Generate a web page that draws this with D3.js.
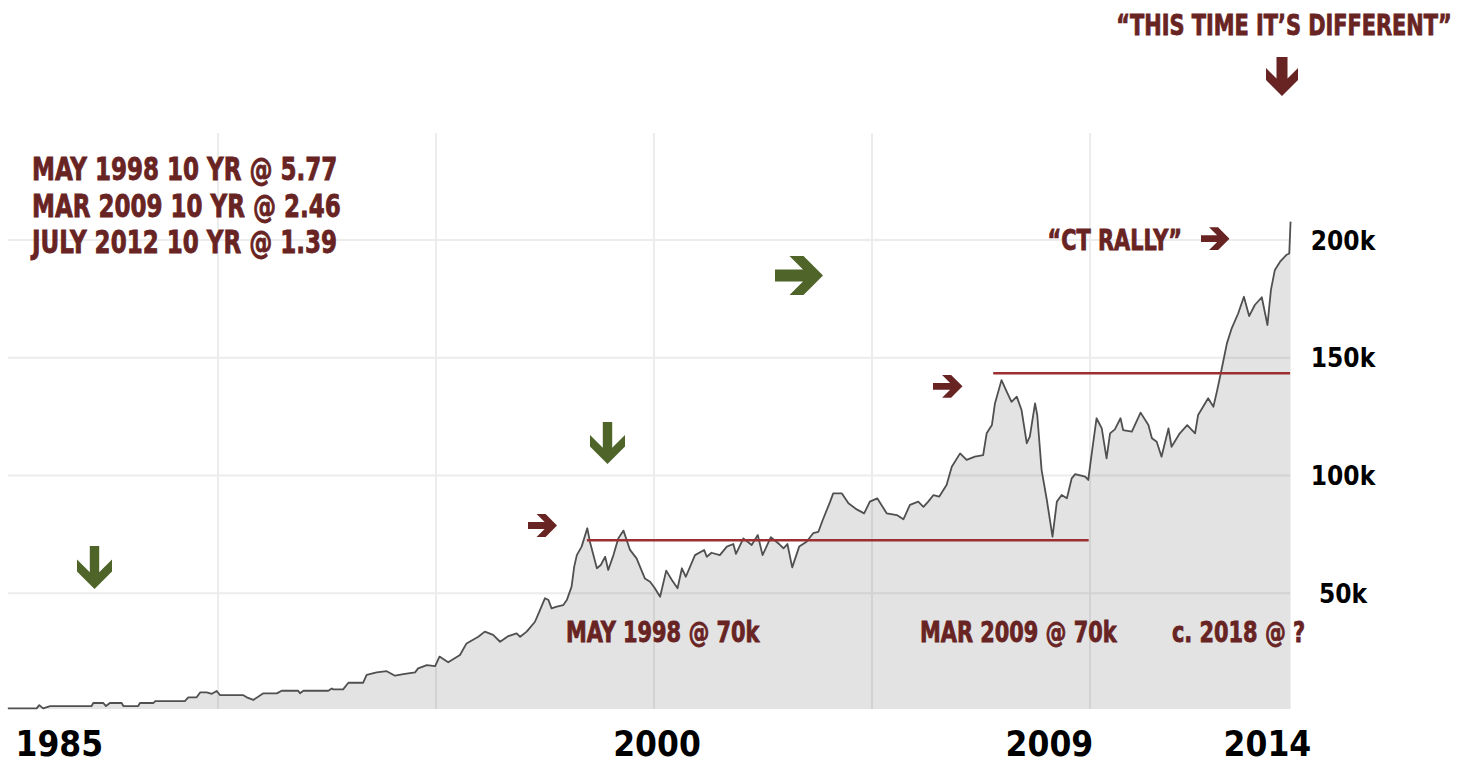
<!DOCTYPE html>
<html>
<head>
<meta charset="utf-8">
<script src="https://cdn.jsdelivr.net/npm/d3@7"></script>
<style>
  html, body { margin: 0; padding: 0; background: #fff; }
  svg { display: block; }
  .ann { font-family: 'DejaVu Sans Condensed', 'DejaVu Sans', sans-serif; font-weight: 700; fill: #682323; stroke: #682323; stroke-width: 0.8; }
  .axis-label { font-family: 'DejaVu Sans Condensed', 'DejaVu Sans', sans-serif; font-weight: 700; fill: #000; }
</style>
</head>
<body>
<svg id="chart"></svg>
<script>
// price series, decimal year and value in thousands
const years = [
  1985.18, 1985.84, 1985.90, 1985.99, 1986.15, 1987.10, 1987.14, 1987.37, 1987.43, 1987.52,
  1987.79, 1987.83, 1988.17, 1988.21, 1988.52, 1988.56, 1989.24, 1989.32, 1989.51, 1989.59,
  1989.74, 1989.86, 1989.97, 1990.05, 1990.58, 1990.66, 1990.81, 1991.04, 1991.35, 1991.46,
  1991.84, 1991.88, 1991.96, 1992.53, 1992.61, 1992.64, 1992.87, 1992.99, 1993.33, 1993.41,
  1993.64, 1993.87, 1994.06, 1994.25, 1994.52, 1994.59, 1994.79, 1994.98, 1995.08, 1995.28,
  1995.55, 1995.70, 1995.97, 1996.12, 1996.31, 1996.47, 1996.66, 1996.85, 1996.93, 1997.08,
  1997.27, 1997.37, 1997.50, 1997.58, 1997.65, 1997.77, 1997.92, 1998.00, 1998.11, 1998.17,
  1998.23, 1998.34, 1998.47, 1998.53, 1998.69, 1998.78, 1998.88, 1998.95, 1999.07, 1999.18,
  1999.30, 1999.45, 1999.60, 1999.79, 1999.91, 2000.02, 2000.14, 2000.28, 2000.41, 2000.54,
  2000.64, 2000.73, 2000.94, 2001.15, 2001.21, 2001.32, 2001.51, 2001.67, 2001.82, 2001.88,
  2002.05, 2002.24, 2002.38, 2002.49, 2002.68, 2002.87, 2002.97, 2003.06, 2003.17, 2003.33,
  2003.50, 2003.65, 2003.77, 2003.87, 2004.04, 2004.11, 2004.31, 2004.46, 2004.65, 2004.82,
  2004.95, 2005.12, 2005.34, 2005.57, 2005.72, 2005.87, 2006.06, 2006.18, 2006.29, 2006.41,
  2006.54, 2006.71, 2006.83, 2007.02, 2007.17, 2007.36, 2007.55, 2007.63, 2007.75, 2007.82,
  2007.97, 2008.09, 2008.20, 2008.32, 2008.43, 2008.55, 2008.62, 2008.74, 2008.79, 2008.89,
  2009.01, 2009.14, 2009.24, 2009.35, 2009.47, 2009.58, 2009.66, 2009.89, 2009.96, 2010.04,
  2010.15, 2010.27, 2010.38, 2010.46, 2010.57, 2010.70, 2010.76, 2010.96, 2011.16, 2011.34,
  2011.42, 2011.53, 2011.64, 2011.80, 2011.87, 2012.06, 2012.23, 2012.41, 2012.48, 2012.71,
  2012.83, 2012.91, 2013.00, 2013.14, 2013.25, 2013.40, 2013.53, 2013.65, 2013.78, 2013.94,
  2014.00, 2014.07, 2014.15, 2014.24, 2014.36, 2014.50, 2014.57, 2014.60
];
const values = [
  1.1, 1.1, 2.5, 1.1, 2.1, 2.1, 3.4, 3.4, 2.1, 3.4,
  3.4, 2.1, 2.1, 3.4, 3.4, 4.2, 4.2, 5.8, 5.8, 7.9,
  7.9, 7.3, 8.5, 6.7, 6.7, 5.8, 4.7, 7.5, 7.5, 8.6,
  8.6, 7.5, 8.6, 8.6, 9.6, 9.2, 9.2, 12.0, 12.0, 15.3,
  16.4, 16.9, 15.0, 15.7, 16.4, 18.1, 19.5, 19.1, 23.1, 20.7,
  23.8, 28.7, 31.5, 33.7, 32.3, 29.4, 31.8, 33.0, 31.5, 33.7,
  37.9, 42.2, 47.9, 47.1, 43.6, 44.3, 45.0, 47.1, 52.8, 61.3,
  66.2, 69.8, 77.6, 71.9, 60.6, 62.0, 65.5, 59.9, 66.2, 73.3,
  76.6, 68.4, 64.8, 56.3, 54.9, 52.1, 48.5, 59.6, 55.6, 52.1,
  60.6, 57.0, 66.2, 68.4, 65.5, 67.2, 66.2, 69.8, 70.9, 66.7,
  73.3, 70.5, 74.7, 66.2, 73.8, 70.9, 69.1, 70.9, 61.0, 69.8,
  71.9, 75.5, 76.1, 81.1, 88.9, 92.4, 92.4, 88.2, 85.6, 83.9,
  88.9, 90.3, 83.9, 83.2, 81.4, 87.5, 88.9, 86.7, 88.9, 91.7,
  91.0, 96.0, 103.7, 109.4, 106.6, 108.0, 108.7, 117.9, 121.4, 130.6,
  140.5, 135.6, 131.3, 133.5, 127.8, 113.7, 116.5, 130.6, 125.7, 102.3,
  89.6, 74.0, 88.9, 91.7, 90.3, 98.8, 100.6, 99.5, 98.1, 109.4,
  124.3, 120.0, 107.3, 117.9, 119.6, 124.3, 119.3, 118.6, 126.7, 121.4,
  115.8, 114.3, 108.0, 120.0, 112.2, 117.9, 121.4, 117.9, 125.7, 132.8,
  129.2, 135.6, 143.4, 156.1, 162.5, 168.9, 175.9, 167.7, 172.4, 175.7,
  170.3, 163.9, 178.8, 187.3, 190.8, 193.6, 194.3, 207.8
];

// axis ticks
const xTickYears = [1985, 2000, 2009, 2014];
const xGridYears = [1990, 1995, 2000, 2005, 2010];
const yTicks = [50, 100, 150, 200];

// level lines (value in thousands, from/to year)
const levels = [
  { value: 72.5, from: 1998.46, to: 2009.97 },
  { value: 143.4, from: 2007.78, to: 2014.59 }
];

// annotation texts
const notes = [
  { text: 'MAY 1998 10 YR @ 5.77', x: 32, y: 180, size: 32, anchor: 'start' },
  { text: 'MAR 2009 10 YR @ 2.46', x: 32, y: 217, size: 32, anchor: 'start' },
  { text: 'JULY 2012 10 YR @ 1.39', x: 32, y: 253, size: 32, anchor: 'start' },
  { text: '\u201CTHIS TIME IT\u2019S DIFFERENT\u201D', x: 1284, y: 35, size: 29, anchor: 'middle' },
  { text: '\u201CCT RALLY\u201D', x: 1182, y: 250, size: 29, anchor: 'end' },
  { text: 'MAY 1998 @ 70k', x: 566, y: 642, size: 29, anchor: 'start' },
  { text: 'MAR 2009 @ 70k', x: 920, y: 642, size: 29, anchor: 'start' },
  { text: 'c. 2018 @ ?', x: 1172, y: 642, size: 29, anchor: 'start' }
];

const data = years.map((yr, i) => ({ year: yr, value: values[i] * 1000 }));

const W = 1465, H = 763;
const plot = { left: 8, right: 1290, top: 133, bottom: 709 };
const green = '#4e6428', maroon = '#682323', levelRed = '#9c3030';
const squeeze = 0.8; // condensed look for the annotation font

const svg = d3.select('#chart').attr('width', W).attr('height', H);
svg.append('rect').attr('width', W).attr('height', H).attr('fill', '#fff');

const x = d3.scaleLinear().domain([1985, 2015]).range([0, 1308]);
const y = d3.scaleLinear().domain([0, 200000]).range([711, 240]);

// grid
svg.append('g').selectAll('line').data(xGridYears).enter().append('line')
  .attr('x1', d => x(d)).attr('x2', d => x(d))
  .attr('y1', plot.top).attr('y2', plot.bottom)
  .attr('stroke', '#ececec').attr('stroke-width', 2);
svg.append('g').selectAll('line').data(yTicks).enter().append('line')
  .attr('x1', plot.left).attr('x2', plot.right)
  .attr('y1', d => y(d * 1000)).attr('y2', d => y(d * 1000))
  .attr('stroke', '#ececec').attr('stroke-width', 2);

// area + line
const area = d3.area()
  .x(d => x(d.year))
  .y0(plot.bottom)
  .y1(d => y(d.value));
svg.append('path').datum(data)
  .attr('d', area)
  .attr('fill', '#000').attr('fill-opacity', 0.11);

const line = d3.line().x(d => x(d.year)).y(d => y(d.value));
svg.append('path').datum(data)
  .attr('d', line)
  .attr('fill', 'none').attr('stroke', '#505050').attr('stroke-width', 1.8)
  .attr('stroke-linejoin', 'round');

// level lines
svg.append('g').selectAll('line').data(levels).enter().append('line')
  .attr('x1', d => x(d.from)).attr('x2', d => x(d.to))
  .attr('y1', d => y(d.value * 1000)).attr('y2', d => y(d.value * 1000))
  .attr('stroke', levelRed).attr('stroke-width', 2.6);

// x axis
const xAxis = svg.append('g')
  .call(d3.axisBottom(x).tickValues(xTickYears).tickSize(0).tickFormat(d3.format('d')));
xAxis.select('.domain').remove();
xAxis.selectAll('text')
  .attr('class', 'axis-label')
  .attr('font-size', 35)
  .attr('y', 756).attr('dy', null)
  .attr('text-anchor', d => d === 1985 ? 'start' : 'middle')
  .attr('dx', d => d === 1985 ? 15 : 2.5);

// y axis
const yAxis = svg.append('g')
  .attr('transform', 'translate(1343,0)')
  .call(d3.axisRight(y).tickValues(yTicks.map(v => v * 1000)).tickSize(0).tickPadding(0)
    .tickFormat(d => (d / 1000) + 'k'));
yAxis.select('.domain').remove();
yAxis.selectAll('text')
  .attr('class', 'axis-label')
  .attr('font-size', 26)
  .attr('text-anchor', 'middle')
  .attr('dy', null).attr('y', 9);

// arrows
function downArrow(cx, top, tip, a, b, k) {
  const yw = tip - b - k;
  return [[cx - a, top], [cx + a, top], [cx + a, yw + (b - a)], [cx + b, yw], [cx + b, yw + k],
    [cx, tip], [cx - b, yw + k], [cx - b, yw], [cx - a, yw + (b - a)]];
}
function rightArrow(left, cy, tip, a, b, k) {
  const xw = tip - b - k;
  return [[left, cy - a], [xw + (b - a), cy - a], [xw, cy - b], [xw + k, cy - b], [tip, cy],
    [xw + k, cy + b], [xw, cy + b], [xw + (b - a), cy + a], [left, cy + a]];
}
const arrows = [
  { pts: downArrow(94.5, 546, 589, 4.7, 17.5, 12), color: green },
  { pts: downArrow(607.5, 422, 464, 4.7, 17.5, 11.5), color: green },
  { pts: rightArrow(775, 275.5, 823, 6, 19.5, 14), color: green },
  { pts: rightArrow(528, 525.5, 557, 3.4, 11.4, 9), color: maroon },
  { pts: rightArrow(933, 386.3, 962.5, 3.4, 11.4, 9), color: maroon },
  { pts: rightArrow(1201, 238.7, 1229.5, 3.4, 11.4, 9), color: maroon },
  { pts: downArrow(1282, 57, 96, 5.5, 16, 12), color: maroon }
];
svg.append('g').selectAll('polygon').data(arrows).enter().append('polygon')
  .attr('points', d => d.pts.map(p => p.join(',')).join(' '))
  .attr('fill', d => d.color);

// annotations
svg.append('g').selectAll('text').data(notes).enter().append('text')
  .attr('class', 'ann')
  .attr('transform', d => `translate(${d.x},${d.y}) scale(${squeeze},1)`)
  .attr('text-anchor', d => d.anchor)
  .attr('font-size', d => d.size)
  .text(d => d.text);
</script>
</body>
</html>
